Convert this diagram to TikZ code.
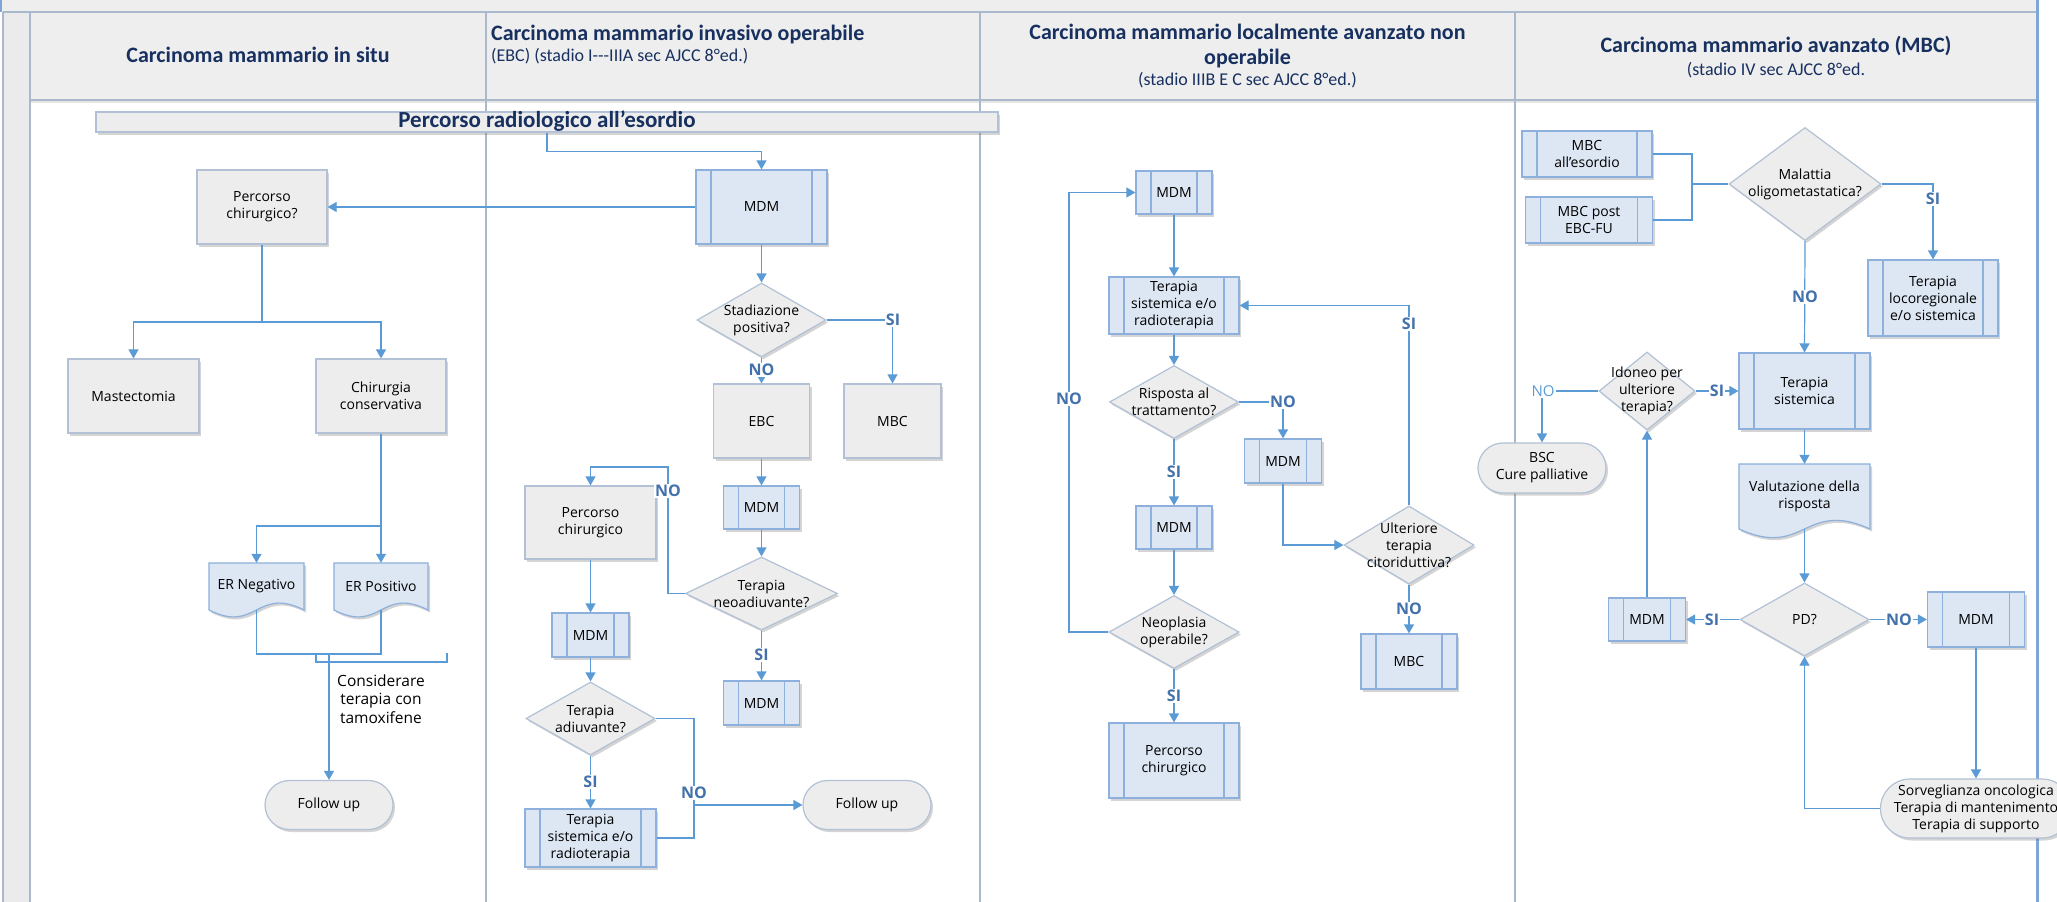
\documentclass[tikz,border=0pt]{standalone}
\usepackage{fontspec}
\setmainfont{Open Sans}
\newfontfamily\hdfont{Carlito}
\usetikzlibrary{arrows.meta,shapes.geometric,shapes.misc,shadows}

\definecolor{laneline}{HTML}{A9B8CB}
\definecolor{hdrfill}{HTML}{EEEEEE}
\definecolor{gfill}{HTML}{EDEDED}
\definecolor{gedge}{HTML}{B2C1D5}
\definecolor{bfill}{HTML}{DDE6F3}
\definecolor{bedge}{HTML}{8DB0DC}
\definecolor{conn}{HTML}{5B9BD5}
\definecolor{lbl}{HTML}{4371AB}
\definecolor{navy}{HTML}{17305F}
\definecolor{frameblue}{HTML}{7EA6D6}

% document symbol: centre x, top y, width, body height, wave depth
\newcommand\docshape[5]{%
  \path[draw=bedge, fill=bfill, line width=1.2pt, boxshadow]
    ({#1-#3/2},#2) -- ({#1+#3/2},#2) -- ({#1+#3/2},{#2+#4})
    .. controls ({#1},{#2+#4-#5}) and ({#1},{#2+#4+#5}) .. ({#1-#3/2},{#2+#4}) -- cycle;}

\tikzset{
  every node/.style={font=\fontsize{14}{17}\selectfont, align=center, inner sep=1pt},
  wh/.style 2 args={minimum width=#1, minimum height=#2},
  boxshadow/.style={drop shadow={shadow xshift=2pt, shadow yshift=-2.5pt, opacity=0.28, fill=black!60}},
  gbox/.style={rectangle, draw=gedge, fill=gfill, line width=1.2pt, boxshadow},
  sbox/.style={rectangle, draw=bedge, fill=bfill, line width=1.2pt, boxshadow,
    path picture={\draw[bedge, line width=1.2pt]
      ([xshift=15pt]path picture bounding box.north west) -- ([xshift=15pt]path picture bounding box.south west)
      ([xshift=-15pt]path picture bounding box.north east) -- ([xshift=-15pt]path picture bounding box.south east);}},
  dec/.style={diamond, draw=gedge, fill=gfill, line width=1.2pt, inner sep=0pt, boxshadow},
  term/.style={rounded rectangle, draw=gedge, fill=gfill, line width=1.2pt, boxshadow},
  ln/.style={draw=conn, line width=1.2pt},
  arr/.style={ln, -{Triangle[width=10pt,length=9pt]}},
  yn/.style={font=\bfseries\fontsize{16}{16}\selectfont, text=lbl, fill=white, inner sep=1pt},
  ynplain/.style={font=\fontsize{15}{15}\selectfont, text=conn, fill=white, inner sep=1pt},
  hdr/.style={font=\hdfont\bfseries\fontsize{22}{25}\selectfont, text=navy, inner sep=0pt},
  hsub/.style={font=\hdfont\fontsize{18}{20}\selectfont, text=navy, inner sep=0pt},
}

\begin{document}
\begin{tikzpicture}[x=1pt,y=-1pt]
\useasboundingbox (0,0) rectangle (2057,902);
\fill[white] (0,0) rectangle (2057,902);

% title band, header row and swimlane grid
\fill[hdrfill] (0,0) rectangle (2037,12);
\fill[black!8] (3,12) rectangle (30,902);
\fill[hdrfill] (30,12) rectangle (2037,100);
\fill[black!10] (30,100) rectangle (2037,103);
\foreach \x in {3,30,486,980,1515} \draw[laneline, line width=1.5pt] (\x,12) -- (\x,902);
\draw[laneline, line width=1.5pt] (3,12) -- (2037,12);
\draw[laneline, line width=1.5pt] (30,100) -- (2037,100);
\draw[frameblue, line width=3pt] (2037,0) -- (2037,902);
\draw[frameblue, line width=2pt] (1,0) -- (1,12);

% lane headers
\node[hdr] (h1) at (258,55) {Carcinoma mammario in situ};
\node[hdr, anchor=west] (h2) at (491,35) {Carcinoma mammario invasivo operabile};
\node[hsub, anchor=west] (h2s) at (491,56) {(EBC) (stadio I-{}-{}-IIIA sec AJCC 8°ed.)};
\node[hdr] (h3) at (1247.5,46) {Carcinoma mammario localmente avanzato non\\operabile};
\node[hsub] (h3s) at (1247.5,80) {(stadio IIIB E C sec AJCC 8°ed.)};
\node[hdr] (h4) at (1776,46) {Carcinoma mammario avanzato (MBC)};
\node[hsub] (h4s) at (1776,70) {(stadio IV sec AJCC 8°ed.};

% imaging work-up bar
\node[gbox, wh={902}{20}, inner sep=0pt, text height=15pt, text depth=4pt,
      font=\hdfont\bfseries\fontsize{23}{23}\selectfont, text=navy] (rad) at (547,122) {Percorso radiologico all’esordio};

% ---- in situ
\node[gbox, wh={130}{74}] (pch1) at (262,207) {Percorso\\chirurgico?};
\node[gbox, wh={131}{74}] (mast) at (133.5,396) {Mastectomia};
\node[gbox, wh={130}{74}] (cons) at (381,396) {Chirurgia\\conservativa};
\docshape{256.5}{563}{95}{47}{24}
\node[wh={95}{47}] (ern) at (256.5,586.5) {ER Negativo};
\docshape{381}{563}{94}{47}{24}
\node[wh={94}{47}] (erp) at (381,586.5) {ER Positivo};
\node[term, wh={130}{49}] (fu1) at (329,805) {Follow up};
\node[font=\fontsize{15.5}{18.5}\selectfont] (tamox) at (381,699) {Considerare\\terapia con\\tamoxifene};
\coordinate (c1) at (262,322);
\coordinate (c2) at (381,526);
\coordinate (c3) at (329,654);

% ---- invasive operable
\node[sbox, wh={131}{74}] (mdmA) at (761.5,207) {MDM};
\node[dec, wh={129}{74}, label=center:{Stadiazione\\positiva?}] (stad) at (761.5,320) {};
\node[gbox, wh={96}{74}] (ebc) at (761.5,421) {EBC};
\node[gbox, wh={97}{74}] (mbc2) at (892.5,421) {MBC};
\node[sbox, wh={76}{43}] (mdmB) at (761.5,507.5) {MDM};
\node[dec, wh={152}{73}, label=center:{Terapia\\neoadiuvante?}] (neoad) at (761.5,593.5) {};
\node[sbox, wh={76}{44}] (mdmC) at (761.5,703) {MDM};
\node[gbox, wh={131}{73}] (pch2) at (590.5,522.5) {Percorso\\chirurgico};
\node[sbox, wh={77}{44}] (mdmD) at (590.5,635) {MDM};
\node[dec, wh={129}{73}, label=center:{Terapia\\adiuvante?}] (adiu) at (590.5,718.5) {};
\node[sbox, wh={131}{58}] (tsr2) at (590.5,838) {Terapia\\sistemica e/o\\radioterapia};
\node[term, wh={130}{49}] (fu2) at (867,805) {Follow up};
\coordinate (c4) at (694,805);

% ---- locally advanced
\node[sbox, wh={76}{43}] (mdm5) at (1174,192.5) {MDM};
\node[sbox, wh={130}{57}] (tsr3) at (1174,305.5) {Terapia\\sistemica e/o\\radioterapia};
\node[dec, wh={129}{73}, label=center:{Risposta al\\trattamento?}] (risp) at (1174,402) {};
\node[sbox, wh={76}{43}] (mdm6) at (1174,527.5) {MDM};
\node[dec, wh={130}{73}, label=center:{Neoplasia\\operabile?}] (neo) at (1174,632) {};
\node[sbox, wh={130}{75}] (pch3) at (1174,760.5) {Percorso\\chirurgico};
\node[sbox, wh={77}{44}] (mdm7) at (1283,461) {MDM};
\node[dec, wh={130}{78}, label=center:{Ulteriore\\terapia\\citoriduttiva?}] (ult) at (1409,545) {};
\node[sbox, wh={96}{55}] (mbc3) at (1409,661.5) {MBC};

% ---- metastatic
\node[sbox, wh={130}{46}] (mbc0) at (1587,154) {MBC\\all’esordio};
\node[sbox, wh={127}{46}] (mbc1) at (1589,220) {MBC post\\EBC-FU};
\node[dec, wh={152}{113}, label=center:{Malattia\\oligometastatica?}] (oligo) at (1805,184) {};
\node[sbox, wh={130}{76}] (loco) at (1933,298) {Terapia\\locoregionale\\e/o sistemica};
\node[sbox, wh={131}{76}] (tsis) at (1804.5,391) {Terapia\\sistemica};
\node[dec, wh={96}{78}, label=center:{Idoneo per\\ulteriore\\terapia?}] (idon) at (1647,391) {};
\node[term, wh={130}{50}] (bsc) at (1542,468) {BSC\\Cure palliative};
\docshape{1804.5}{464}{131}{65}{30}
\node[wh={131}{65}] (val) at (1804.5,496.5) {Valutazione della\\risposta};
\node[dec, wh={129}{73}, label=center:{PD?}] (pd) at (1804.5,619.5) {};
\node[sbox, wh={77}{43}] (mdmL) at (1647,619.5) {MDM};
\node[sbox, wh={97}{55}] (mdmR) at (1976,619.5) {MDM};
\node[term, wh={182}{59}] (sorv) at (1976,808.5) {Sorveglianza oncologica\\Terapia di mantenimento\\Terapia di supporto};
\coordinate (c5) at (1692,184);

% ---- connectors, in situ
\draw[ln] (pch1.south) -- (c1);
\draw[arr] (c1) -| (mast.north);
\draw[arr] (c1) -| (cons.north);
\draw[arr] (cons.south) -- (erp.north);
\draw[arr] (c2) -| (ern.north);
\draw[ln] (ern.south) |- (c3) -| (erp.south);
\draw[arr] (c3) -- (fu1.north);
\draw[conn, line width=2.3pt] (316,654) -- (316,662) -- (447,662) -- (447,653);

% ---- connectors, invasive operable
\draw[arr] (rad.south) -- ++(0,19) -| (mdmA.north);
\draw[arr] (mdmA.west) -- (pch1.east);
\draw[arr] (mdmA.south) -- (stad.north);
\draw[arr] (stad.south) -- (ebc.north);
\draw[arr] (stad.east) -| (mbc2.north);
\draw[arr] (ebc.south) -- (mdmB.north);
\draw[arr] (mdmB.south) -- (neoad.north);
\draw[arr] (neoad.south) -- (mdmC.north);
\draw[arr] (neoad.west) -| (668,467) -| (pch2.north);
\draw[arr] (pch2.south) -- (mdmD.north);
\draw[arr] (mdmD.south) -- (adiu.north);
\draw[arr] (adiu.south) -- (tsr2.north);
\draw[arr] (adiu.east) -| (c4) -- (fu2.west);
\draw[ln] (tsr2.east) -| (c4);

% ---- connectors, locally advanced
\draw[arr] (mdm5.south) -- (tsr3.north);
\draw[arr] (tsr3.south) -- (risp.north);
\draw[arr] (risp.south) -- (mdm6.north);
\draw[arr] (mdm6.south) -- (neo.north);
\draw[arr] (neo.south) -- (pch3.north);
\draw[arr] (neo.west) -- (1069,632) |- (mdm5.west);
\draw[arr] (risp.east) -| (mdm7.north);
\draw[arr] (mdm7.south) |- (ult.west);
\draw[arr] (ult.north) |- (tsr3.east);
\draw[arr] (ult.south) -- (mbc3.north);

% ---- connectors, metastatic
\draw[ln] (mbc0.east) -| (c5) |- (mbc1.east);
\draw[ln] (c5) -- (oligo.west);
\draw[arr] (oligo.east) -| (loco.north);
\draw[arr] (oligo.south) -- (tsis.north);
\draw[arr] (idon.east) -- (tsis.west);
\draw[arr] (idon.west) -| (bsc.north);
\draw[arr] (tsis.south) -- (val.north);
\draw[arr] (val.south) -- (pd.north);
\draw[arr] (pd.west) -- (mdmL.east);
\draw[arr] (pd.east) -- (mdmR.west);
\draw[arr] (mdmL.north) -- (idon.south);
\draw[arr] (mdmR.south) -- (sorv.north);
\draw[arr] (sorv.west) -| (pd.south);

% ---- branch labels
\node[yn] (l1) at (761.5,370) {NO};
\node[yn] (l2) at (893,320) {SI};
\node[yn] (l3) at (761.5,655) {SI};
\node[yn] (l4) at (668,491) {NO};
\node[yn] (l5) at (590.5,782) {SI};
\node[yn] (l6) at (694,793) {NO};
\node[yn] (l7) at (1174,472) {SI};
\node[yn] (l8) at (1174,696) {SI};
\node[yn] (l9) at (1069,399) {NO};
\node[yn] (l10) at (1283,402) {NO};
\node[yn] (l11) at (1409,324) {SI};
\node[yn] (l12) at (1409,609) {NO};
\node[yn] (l13) at (1933,199) {SI};
\node[yn] (l14) at (1805,297) {NO};
\node[yn] (l15) at (1717,391) {SI};
\node[ynplain] (l16) at (1543,391) {NO};
\node[yn] (l17) at (1712,619.5) {SI};
\node[yn] (l18) at (1899,619.5) {NO};
\end{tikzpicture}
\end{document}
